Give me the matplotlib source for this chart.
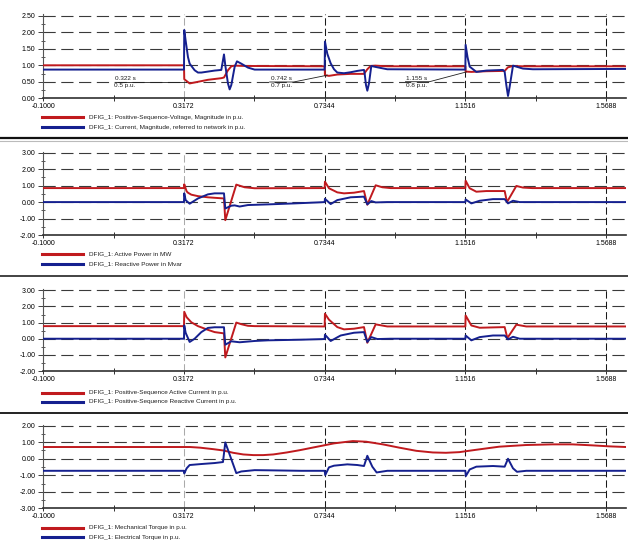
import matplotlib
matplotlib.use("Agg")
import matplotlib.pyplot as plt
from matplotlib.lines import Line2D
from matplotlib.ticker import FixedLocator, MultipleLocator, FormatStrFormatter

plt.rcParams['font.family'] = ['Liberation Sans', 'DejaVu Sans']

# ---------------- data ----------------
X_TICKS = [-0.1, 0.3172, 0.7344, 1.1516, 1.5688]

# Panel 1: voltage / current magnitude
V_t = [-0.1, 0.3172, 0.318, 0.334, 0.3587, 0.388, 0.428, 0.4358, 0.4476, 0.4575, 0.4674, 0.50,
       0.7344, 0.7352, 0.7472, 0.7719, 0.8115, 0.851, 0.8609, 0.8707, 0.8856, 0.92,
       1.1516, 1.1524, 1.1694, 1.2138, 1.2682, 1.2781, 1.2929, 1.32, 1.628]
V_v = [1.00, 1.00, 0.58, 0.45, 0.50, 0.56, 0.61, 0.63, 0.85, 0.97, 0.99, 0.98,
       0.97, 0.70, 0.68, 0.72, 0.74, 0.74, 0.88, 0.98, 0.99, 0.97,
       0.97, 0.81, 0.80, 0.82, 0.83, 0.94, 0.98, 0.97, 0.97]
I_t = [-0.1, 0.3172, 0.318, 0.3221, 0.329, 0.334, 0.3488, 0.3587, 0.3686, 0.3883, 0.4081, 0.4279,
       0.4358, 0.4397, 0.4476, 0.4526, 0.4575, 0.4674, 0.4743, 0.4871, 0.5069, 0.5267,
       0.7344, 0.7352, 0.7422, 0.7522, 0.7621, 0.7719, 0.7917, 0.8115, 0.8312, 0.851, 0.853,
       0.8569, 0.8609, 0.8658, 0.8727, 0.8856, 0.9201,
       1.1516, 1.1524, 1.158, 1.1644, 1.1842, 1.2138, 1.2632, 1.2682, 1.2731, 1.2781, 1.283,
       1.2929, 1.3225, 1.352, 1.628]
I_v = [0.87, 0.87, 2.07, 1.75, 1.25, 1.05, 0.85, 0.78, 0.78, 0.81, 0.84, 0.86,
       1.33, 1.00, 0.45, 0.27, 0.40, 0.95, 1.12, 1.05, 0.93, 0.87,
       0.87, 1.72, 1.35, 1.06, 0.88, 0.78, 0.76, 0.79, 0.83, 0.86, 0.75,
       0.40, 0.23, 0.45, 0.98, 0.95, 0.88,
       0.87, 1.62, 1.25, 0.96, 0.80, 0.84, 0.86, 0.80, 0.40, 0.07, 0.35,
       0.99, 0.90, 0.88, 0.89]

# Panel 2: active / reactive power
P_t = [-0.1, 0.3172, 0.318, 0.3251, 0.329, 0.3389, 0.3587, 0.3883, 0.4081, 0.4358, 0.4397,
       0.4723, 0.497, 0.5267,
       0.7344, 0.7352, 0.7472, 0.7719, 0.7917, 0.8213, 0.851, 0.8609, 0.8856, 0.9053, 0.93,
       1.1516, 1.1524, 1.1644, 1.1842, 1.2138, 1.2682, 1.2751, 1.3028, 1.3225, 1.35, 1.628]
P_v = [0.85, 0.85, 1.08, 0.65, 0.57, 0.45, 0.36, 0.29, 0.26, 0.22, -1.10,
       1.06, 0.90, 0.84,
       0.85, 1.24, 0.84, 0.59, 0.53, 0.57, 0.67, -0.16, 1.02, 0.90, 0.85,
       0.85, 1.30, 0.84, 0.63, 0.67, 0.67, 0.00, 0.98, 0.88, 0.85, 0.85]
Q_t = [-0.1, 0.3172, 0.318, 0.3221, 0.334, 0.3587, 0.3883, 0.4081, 0.4358, 0.4397, 0.4575,
       0.4674, 0.4822, 0.5069, 0.5662, 0.6453, 0.7144,
       0.7344, 0.7352, 0.7522, 0.7719, 0.8115, 0.851, 0.8609, 0.8727, 0.8856, 0.92,
       1.1516, 1.1524, 1.1694, 1.1941, 1.2336, 1.2682, 1.2781, 1.2929, 1.3126, 1.628]
Q_v = [0.0, 0.0, 0.53, 0.12, -0.10, 0.22, 0.47, 0.53, 0.53, -0.39, -0.22,
       -0.20, -0.27, -0.18, -0.14, -0.08, -0.02,
       0.0, 0.20, -0.12, 0.12, 0.29, 0.33, -0.14, 0.06, -0.02, 0.0,
       0.0, 0.16, -0.08, 0.08, 0.18, 0.18, -0.08, 0.08, 0.0, 0.0]

# Panel 3: active / reactive current
Ip_t = [-0.1, 0.3172, 0.318, 0.3251, 0.3389, 0.3587, 0.3883, 0.4081, 0.4358, 0.4397, 0.4723,
        0.4871, 0.5069, 0.5267,
        0.7344, 0.7352, 0.7472, 0.7719, 0.7917, 0.8213, 0.851, 0.8609, 0.8856, 0.9201,
        1.1516, 1.1524, 1.1694, 1.1941, 1.2682, 1.2761, 1.3028, 1.3324, 1.628]
Ip_v = [0.78, 0.78, 1.67, 1.33, 1.02, 0.78, 0.55, 0.41, 0.33, -1.16, 1.00,
        0.90, 0.80, 0.78,
        0.76, 1.55, 1.18, 0.72, 0.58, 0.62, 0.72, -0.25, 0.89, 0.76,
        0.76, 1.44, 0.82, 0.68, 0.72, 0.04, 0.87, 0.76, 0.76]
Iq_t = [-0.1, 0.3172, 0.318, 0.3221, 0.334, 0.3488, 0.3686, 0.3883, 0.4081, 0.4358, 0.4397,
        0.4575, 0.4822, 0.5267, 0.5662, 0.665,
        0.7344, 0.7352, 0.7522, 0.7818, 0.8213, 0.851, 0.8609, 0.8727, 0.8905, 0.93,
        1.1516, 1.1524, 1.1694, 1.1941, 1.2336, 1.2682, 1.2781, 1.2929, 1.3126, 1.628]
Iq_v = [0.0, 0.0, 0.82, 0.37, -0.20, 0.0, 0.41, 0.67, 0.71, 0.71, -0.37,
        -0.16, -0.22, -0.14, -0.10, -0.06,
        -0.02, 0.25, -0.14, 0.20, 0.37, 0.41, -0.20, 0.10, -0.02, 0.0,
        0.0, 0.20, -0.10, 0.10, 0.20, 0.20, -0.04, 0.12, 0.0, 0.0]

# Panel 4: mechanical / electrical torque
Tm_t = [-0.1, 0.335, 0.365, 0.404, 0.434, 0.463, 0.493, 0.523, 0.552, 0.582, 0.622, 0.661,
        0.710, 0.762, 0.818, 0.858, 0.907, 0.956, 1.006, 1.055, 1.094, 1.134, 1.183, 1.252,
        1.331, 1.410, 1.469, 1.528, 1.578, 1.628]
Tm_v = [0.71, 0.71, 0.67, 0.58, 0.50, 0.36, 0.26, 0.22, 0.22, 0.26, 0.38, 0.52,
        0.72, 0.93, 1.07, 1.03, 0.87, 0.67, 0.48, 0.38, 0.36, 0.40, 0.54, 0.73,
        0.83, 0.87, 0.87, 0.81, 0.75, 0.71]
Te_t = [-0.1, 0.3172, 0.318, 0.3251, 0.334, 0.3686, 0.4081, 0.4328, 0.4397, 0.4723, 0.4871,
        0.5267, 0.5662, 0.665,
        0.7344, 0.736, 0.7472, 0.7621, 0.8016, 0.8312, 0.851, 0.8609, 0.8757, 0.8885, 0.9201,
        1.1516, 1.153, 1.1644, 1.1842, 1.2336, 1.2682, 1.2781, 1.2929, 1.3047, 1.3324, 1.628]
Te_v = [-0.73, -0.73, -0.89, -0.58, -0.38, -0.32, -0.26, -0.20, 0.99, -0.87, -0.77,
        -0.69, -0.70, -0.73,
        -0.73, -0.99, -0.52, -0.42, -0.34, -0.38, -0.44, 0.18, -0.48, -0.83, -0.73,
        -0.73, -1.05, -0.65, -0.48, -0.44, -0.48, 0.00, -0.58, -0.79, -0.73, -0.73]

LABELS = [
    ["DFIG_1: Positive-Sequence-Voltage, Magnitude in p.u.",
     "DFIG_1: Current, Magnitude, referred to network in p.u."],
    ["DFIG_1: Active Power in MW", "DFIG_1: Reactive Power in Mvar"],
    ["DFIG_1: Positive-Sequence Active Current in p.u.",
     "DFIG_1: Positive-Sequence Reactive Current in p.u."],
    ["DFIG_1: Mechanical Torque in p.u.", "DFIG_1: Electrical Torque in p.u."],
]

ANN_T = [0.322, 0.742, 1.155]
ANN_V = [0.5, 0.7, 0.8]

# ---------------- layout ----------------
W, H = 628, 546
RED = '#c01a1e'
BLUE = '#15208f'
XL, XR = 43.3, 626.0
XMAX = 1.628

panels = [
    dict(series=[(V_t, V_v), (I_t, I_v)], ymin=0.0, ymax=2.5, major=0.5, minor=0.25,
         y_bot=98.3, per=33.0, leg=(117.3, 127.3)),
    dict(series=[(P_t, P_v), (Q_t, Q_v)], ymin=-2.0, ymax=3.0, major=1.0, minor=0.5,
         y_bot=235.0, per=16.46, leg=(254.3, 264.3)),
    dict(series=[(Ip_t, Ip_v), (Iq_t, Iq_v)], ymin=-2.0, ymax=3.0, major=1.0, minor=0.5,
         y_bot=371.0, per=16.14, leg=(392.7, 401.7)),
    dict(series=[(Tm_t, Tm_v), (Te_t, Te_v)], ymin=-3.0, ymax=2.0, major=1.0, minor=0.5,
         y_bot=508.3, per=16.52, leg=(527.7, 537.0)),
]

fig = plt.figure(figsize=(W / 100, H / 100), dpi=100)
fig.patch.set_facecolor('white')

axes = []
for k, p in enumerate(panels):
    top_val = p['ymax'] + (0.045 if k == 0 else 0.06)
    y_top = p['y_bot'] - (top_val - p['ymin']) * p['per']
    ax = fig.add_axes([XL / W, 1 - p['y_bot'] / H, (XR - XL) / W, (p['y_bot'] - y_top) / H])
    ax.set_xlim(X_TICKS[0], XMAX)
    ax.set_ylim(p['ymin'], top_val)
    for s in ('top', 'right'):
        ax.spines[s].set_visible(False)
    ax.spines['left'].set_color('#555555')
    ax.spines['left'].set_linewidth(0.8)
    ax.spines['bottom'].set_color('#303030')
    ax.spines['bottom'].set_linewidth(1.2)

    yt = []
    v = p['ymin']
    while v <= p['ymax'] + 1e-9:
        yt.append(round(v, 4))
        v += p['major']
    ax.yaxis.set_major_locator(FixedLocator(yt))
    ax.yaxis.set_minor_locator(MultipleLocator(p['minor']))
    ax.yaxis.set_major_formatter(FormatStrFormatter('%.2f'))
    ax.xaxis.set_major_locator(FixedLocator(X_TICKS))
    ax.xaxis.set_minor_locator(FixedLocator([(a + b) / 2 for a, b in zip(X_TICKS[:-1], X_TICKS[1:])]))
    ax.xaxis.set_major_formatter(FormatStrFormatter('%.4f'))

    ax.tick_params(axis='y', which='major', direction='out', length=3.5, width=0.7,
                   color='#404040', pad=2.2, labelsize=5)
    ax.tick_params(axis='y', which='minor', direction='inout', length=3.5, width=0.6, color='#404040')
    ax.tick_params(axis='x', which='major', direction='out', length=2.2, width=0.7,
                   color='#303030', pad=1.2, labelsize=5)
    ax.tick_params(axis='x', which='minor', direction='inout', length=4.5, width=0.7, color='#303030')

    # grid lines
    for yv in yt[1:]:
        ax.axhline(yv, color='#3a3a3a', lw=0.8, dashes=(11, 5), zorder=1)
    for i, xv in enumerate(X_TICKS[1:]):
        ax.axvline(xv, color='#aaaaaa' if i == 0 else '#1a1a1a', lw=0.75, dashes=(7, 3), zorder=1)

    (t1, v1), (t2, v2) = p['series']
    ax.plot(t1, v1, color=RED, lw=1.4, zorder=3, solid_joinstyle='round')
    ax.plot(t2, v2, color=BLUE, lw=1.4, zorder=4, solid_joinstyle='round')
    axes.append(ax)

    # legend
    for y, c, lab in zip(p['leg'], (RED, BLUE), LABELS[k]):
        fig.add_artist(Line2D([42 / W, 83 / W], [1 - y / H, 1 - y / H], color=c, lw=2.2))
        fig.text(89 / W, 1 - y / H, lab, fontsize=4.6, va='center', ha='left', color='#202020')

# separators
for y, c, lw in [(137.7, '#111111', 1.6), (140.6, '#bbbbbb', 0.8),
                 (275.5, '#222222', 1.2), (412.6, '#111111', 1.3)]:
    fig.add_artist(Line2D([0, 1], [1 - y / H, 1 - y / H], color=c, lw=lw))

# annotations (panel 1)
ax0 = axes[0]
offsets = [(-67.6, 0.0, 0.0, -60.6), (-57.6, -33.6, -6.8, -45.6), (-61.0, -37.0, -9.8, -49.6)]
inv = ax0.transData.inverted()
for t, v, (dl, dr, dy, dc) in zip(ANN_T, ANN_V, offsets):
    px, py = ax0.transData.transform((t, v))
    pts = inv.transform([(px + dl, py + dy), (px + dr, py + dy), (px, py)])
    ax0.plot(pts[:, 0], pts[:, 1], color='#202020', lw=0.6, zorder=5, clip_on=False)
    ax0.annotate(f"{t} s", xy=(t, v), xytext=(dc, dy + 1.0), textcoords='offset pixels',
                 ha='center', va='bottom', fontsize=4.6, color='#202020')
    ax0.annotate(f"{v} p.u.", xy=(t, v), xytext=(dc, dy - 0.8), textcoords='offset pixels',
                 ha='center', va='top', fontsize=4.6, color='#202020')

fig.savefig('out.png', dpi=100, facecolor='white')
